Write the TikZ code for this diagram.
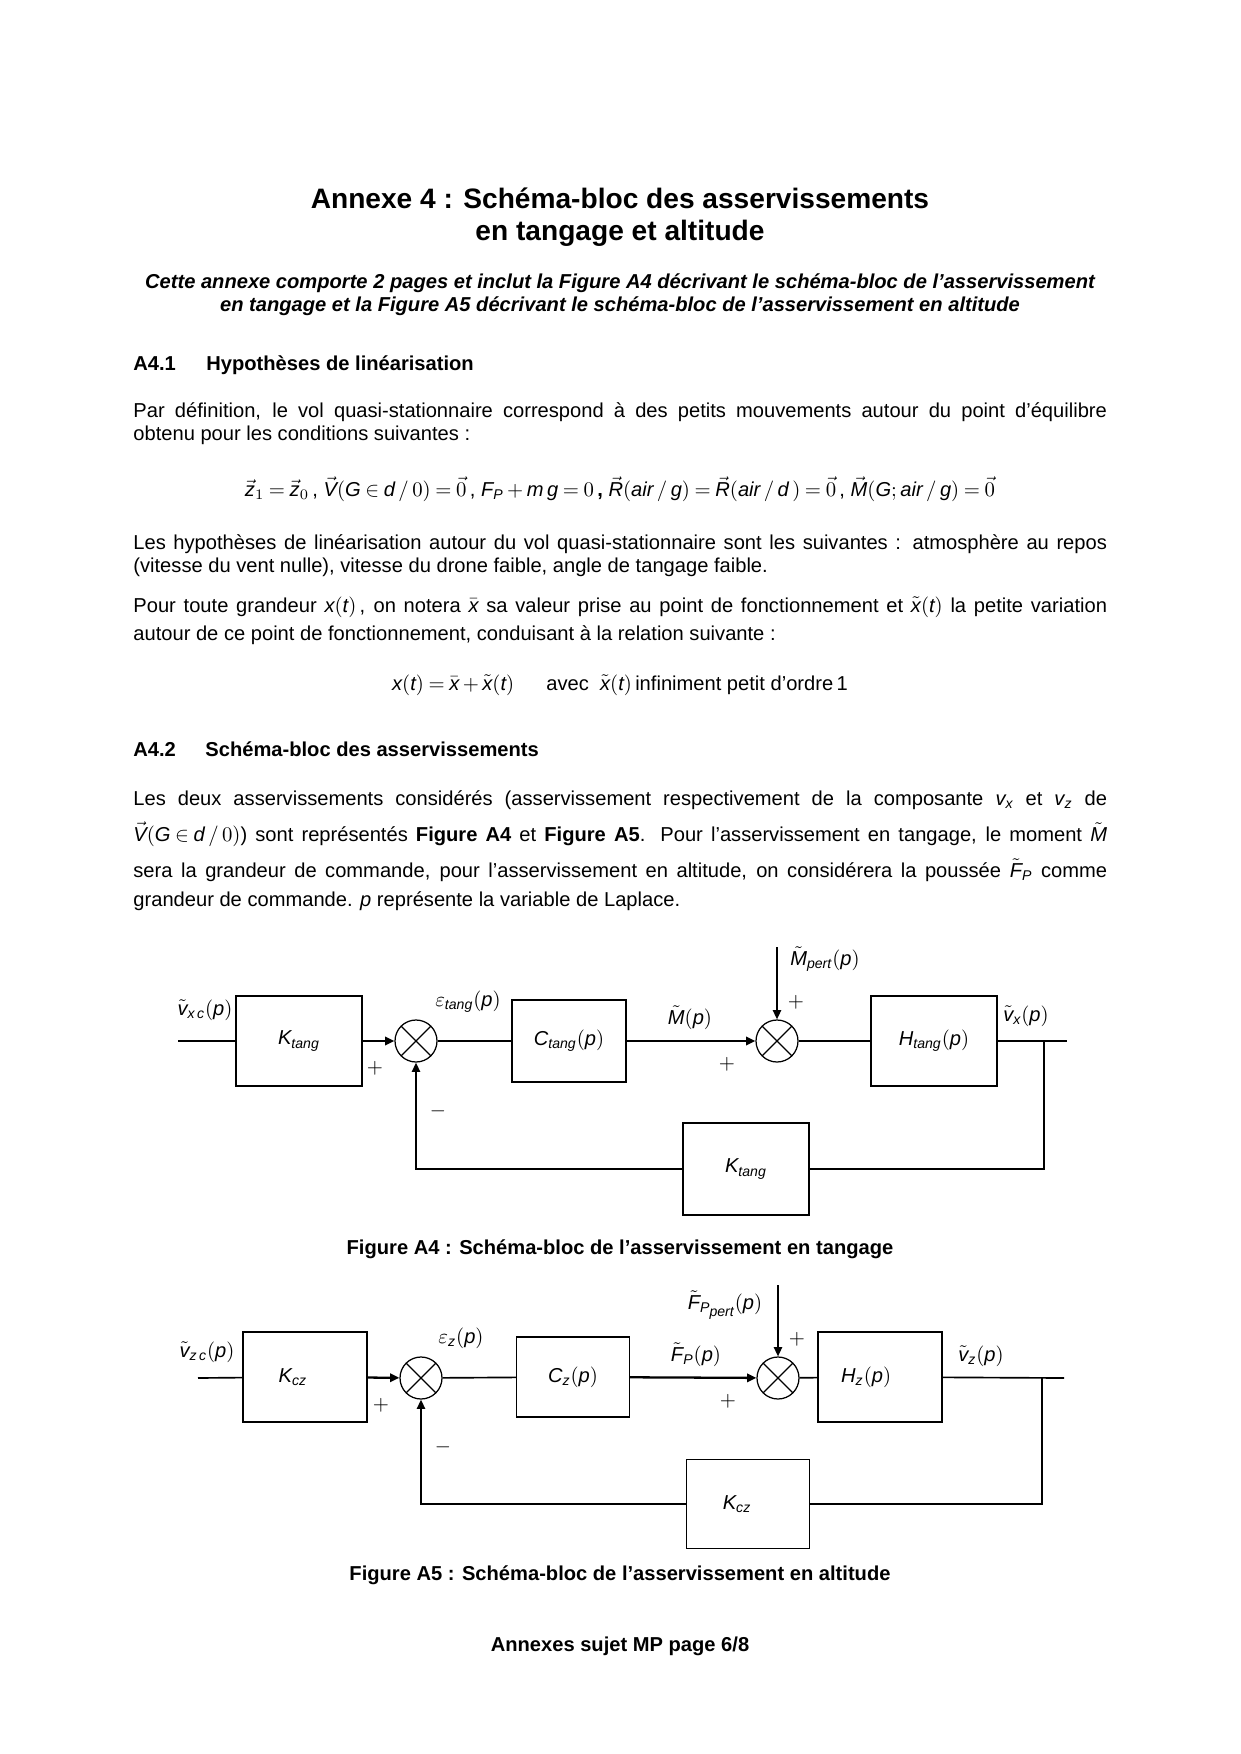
\documentclass[tikz,border=0pt]{standalone}
\usepackage{amsmath}
\usepackage{fontspec}
\setmainfont{Liberation Sans}
\usetikzlibrary{arrows.meta, positioning}

% chiffres et signes des formules en Liberation Sans
\newfontfamily\sanschiffres[NFSSFamily=libsans]{Liberation Sans}
\DeclareSymbolFont{chiffres}{TU}{libsans}{m}{n}
\DeclareMathSymbol{0}{\mathalpha}{chiffres}{`0}
\DeclareMathSymbol{1}{\mathalpha}{chiffres}{`1}
\DeclareMathSymbol{2}{\mathalpha}{chiffres}{`2}
\DeclareMathSymbol{(}{\mathopen}{chiffres}{`(}
\DeclareMathSymbol{)}{\mathclose}{chiffres}{`)}
\DeclareMathSymbol{/}{\mathord}{chiffres}{`/}
\DeclareMathSymbol{=}{\mathrel}{chiffres}{`=}
\DeclareMathSymbol{+}{\mathbin}{chiffres}{`+}
\DeclareMathSymbol{;}{\mathpunct}{chiffres}{`;}
\thickmuskip=4mu
\medmuskip=3mu

\newcommand{\px}{0.016933cm}
\newcommand{\corps}{\fontsize{9.7}{11.15}\selectfont}
\newcommand{\titre}{\fontsize{13.55}{15.6}\selectfont\bfseries}
\newcommand{\vi}[1]{\textit{#1}}
\newcommand{\vect}[1]{\vec{\vi{#1}}}
\newcommand{\tild}[1]{\tilde{\vi{#1}}}
\newlength{\largeur}
\setlength{\largeur}{16.49cm}

\begin{document}
\begin{tikzpicture}[x=\px, y=-\px, >={Triangle[length=4.5pt, width=4pt]},
    ligne/.style={anchor=base west, inner sep=0pt, font=\corps},
    centre/.style={anchor=base, inner sep=0pt, font=\corps},
    bloc/.style={draw, line width=0.6pt, inner sep=0pt, font=\corps},
    somme/.style={draw, circle, line width=0.6pt, minimum size=42*\px, inner sep=0pt,
        path picture={
            \draw[line width=0.6pt] (path picture bounding box.north west) -- (path picture bounding box.south east);
            \draw[line width=0.6pt] (path picture bounding box.south west) -- (path picture bounding box.north east);
        }},
    signe/.style={inner sep=0pt, font=\corps},
    fil/.style={line width=0.8pt},
    filfort/.style={line width=1.1pt}]

    \fill[white] (0,0) rectangle (1240,1754);
    \useasboundingbox (0,0) rectangle (1240,1754);

    % titre
    \node[centre, font=\titre] (titre1) at (620,208) {Annexe 4 : Schéma-bloc des asservissements};
    \node[centre, font=\titre] (titre2) at (620,240) {en tangage et altitude};
    \node[centre, font=\corps\bfseries\itshape] (intro1) at (620,288) {Cette annexe comporte 2 pages et inclut la Figure A4 décrivant le schéma-bloc de l’asservissement};
    \node[centre, font=\corps\bfseries\itshape] (intro2) at (620,311) {en tangage et la Figure A5 décrivant le schéma-bloc de l’asservissement en altitude};

    % A4.1
    \node[ligne, font=\corps\bfseries] (num1) at (133,370) {A4.1};
    \node[ligne, font=\corps\bfseries] (sec1) at (206,370) {Hypothèses de linéarisation};

    \node[ligne] (p1a) at (133,417) {\makebox[\largeur][s]{Par définition, le vol quasi-stationnaire correspond à des petits mouvements autour du point d’équilibre}};
    \node[ligne] (p1b) at (133,440) {obtenu pour les conditions suivantes :};

    \node[centre] (eq1) at (620,496) {$\vect{z}_1=\vect{z}_0$\,, $\vect{V}(\vi{G}\in\vi{d}\,/\,0)=\vec{0}$\,, $\vi{F}_{\vi{P}}+\vi{m}\,\vi{g}=0$\,\textbf{,} $\vect{R}(\vi{air}\,/\,\vi{g})=\vect{R}(\vi{air}\,/\,\vi{d}\,)=\vec{0}$\,, $\vect{M}(\vi{G};\vi{air}\,/\,\vi{g})=\vec{0}$};

    \node[ligne] (p2a) at (133,549) {\makebox[\largeur][s]{Les hypothèses de linéarisation autour du vol quasi-stationnaire sont les suivantes : atmosphère au repos}};
    \node[ligne] (p2b) at (133,572) {(vitesse du vent nulle), vitesse du drone faible, angle de tangage faible.};

    \node[ligne] (p3a) at (133,612) {\makebox[\largeur][s]{Pour toute grandeur $\vi{x}(\vi{t})$\,, on notera $\bar{\vi{x}}$ sa valeur prise au point de fonctionnement et $\tild{x}(\vi{t})$ la petite variation}};
    \node[ligne] (p3b) at (133,640) {autour de ce point de fonctionnement, conduisant à la relation suivante :};

    \node[centre] (eq2) at (620,690) {$\vi{x}(\vi{t})=\bar{\vi{x}}+\tild{x}(\vi{t})$\hspace{1.6em}avec\ \ $\tild{x}(\vi{t})$\,infiniment petit d'ordre\,1};

    % A4.2
    \node[ligne, font=\corps\bfseries] (num2) at (133,756) {A4.2};
    \node[ligne, font=\corps\bfseries] (sec2) at (205,756) {Schéma-bloc des asservissements};

    \node[ligne] (p4a) at (133,805) {\makebox[\largeur][s]{Les deux asservissements considérés (asservissement respectivement de la composante $\vi{v}_{\vi{x}}$ et $\vi{v}_{\vi{z}}$ de}};
    \node[ligne] (p4b) at (133,841) {\makebox[\largeur][s]{$\vect{V}(\vi{G}\in\vi{d}\,/\,0)$) sont représentés \textbf{Figure A4} et \textbf{Figure A5}. Pour l’asservissement en tangage, le moment $\tild{M}$}};
    \node[ligne] (p4c) at (133,877) {\makebox[\largeur][s]{sera la grandeur de commande, pour l’asservissement en altitude, on considérera la poussée $\tild{F}_{\vi{P}}$ comme}};
    \node[ligne] (p4d) at (133,906) {grandeur de commande. $\vi{p}$ représente la variable de Laplace.};

    % Figure A4
    \coordinate (e1) at (178,1041);
    \node[bloc, minimum width=126*\px, minimum height=90*\px] (K1) at (299,1041) {$\vi{K}_{\vi{tang}}$};
    \node[somme] (S1) at (416,1041) {};
    \node[bloc, minimum width=114*\px, minimum height=82*\px] (C1) at (569,1041) {$\vi{C}_{\vi{tang}}(\vi{p})$};
    \node[somme] (S2) at (777,1041) {};
    \node[bloc, minimum width=126*\px, minimum height=90*\px] (H1) at (934,1041) {$\vi{H}_{\vi{tang}}(\vi{p})$};
    \coordinate (b1) at (1044,1041);
    \coordinate (s1) at (1067,1041);
    \node[bloc, minimum width=126*\px, minimum height=92*\px] (R1) at (746,1169) {$\vi{K}_{\vi{tang}}$};
    \coordinate (m1) at (777,947);

    \node[signe] (lvxc) at (205,1010) {$\tild{v}_{\vi{x\,c}}(\vi{p})$};
    \node[signe] (leps1) at (468,1002) {$\varepsilon_{\vi{tang}}(\vi{p})$};
    \node[signe] (lM) at (690,1018) {$\tild{M}(\vi{p})$};
    \node[signe] (lMp) at (825,959) {$\tild{M}_{\vi{pert}}(\vi{p})$};
    \node[signe] (lvx) at (1026,1016) {$\tild{v}_{\vi{x}}(\vi{p})$};
    \node[signe] (sg1) at (375,1068) {$+$};
    \node[signe] (sg2) at (438,1111) {$-$};
    \node[signe] (sg3) at (727,1064) {$+$};
    \node[signe] (sg4) at (796,1002) {$+$};

    \draw[fil] (e1) -- (K1);
    \draw[filfort, ->] (K1) -- (S1);
    \draw[fil] (S1) -- (C1);
    \draw[filfort, ->] (C1) -- (S2);
    \draw[fil] (S2) -- (H1);
    \draw[fil] (H1) -- (s1);
    \draw[fil] (b1) |- (R1);
    \draw[fil, ->] (R1) -| (S1);
    \draw[fil, ->] (m1) -- (S2);

    \node[centre, font=\corps\bfseries] (leg1) at (620,1254) {Figure A4 : Schéma-bloc de l’asservissement en tangage};

    % Figure A5
    \coordinate (e2) at (198,1378);
    \node[bloc, minimum width=124*\px, minimum height=90*\px] (K2) at (305,1377) {$\vi{K}_{\vi{cz}}$\hspace*{0.41cm}};
    \node[somme] (S3) at (421,1378) {};
    \node[bloc, minimum width=113*\px, minimum height=80*\px] (C2) at (573,1377) {$\vi{C}_{\vi{z}}(\vi{p})$};
    \node[somme] (S4) at (778,1378) {};
    \node[bloc, minimum width=124*\px, minimum height=90*\px] (H2) at (880,1377) {$\vi{H}_{\vi{z}}(\vi{p})$\hspace*{0.47cm}};
    \coordinate (b2) at (1042,1378);
    \coordinate (s2) at (1064,1378);
    \node[bloc, minimum width=123*\px, minimum height=89*\px] (R2) at (748,1504) {$\vi{K}_{\vi{cz}}$\hspace*{0.37cm}};
    \coordinate (m2) at (778,1285);

    \node[signe] (lvzc) at (207,1352) {$\tild{v}_{\vi{z\,c}}(\vi{p})$};
    \node[signe] (leps2) at (461,1338) {$\varepsilon_{\vi{z}}(\vi{p})$};
    \node[signe] (lF) at (696,1355) {$\tild{F}_{\vi{P}}(\vi{p})$};
    \node[signe] (lFp) at (725,1305) {$\tild{F}_{\vi{P}\lower0.35ex\hbox{$\scriptstyle\vi{pert}$}}(\vi{p})$};
    \node[signe] (lvz) at (981,1356) {$\tild{v}_{\vi{z}}(\vi{p})$};
    \node[signe] (sg5) at (381,1405) {$+$};
    \node[signe] (sg6) at (443,1447) {$-$};
    \node[signe] (sg7) at (728,1401) {$+$};
    \node[signe] (sg8) at (797,1339) {$+$};

    \draw[fil] (e2) -- (K2);
    \draw[filfort, ->] (K2) -- (S3);
    \draw[fil] (S3) -- (C2);
    \draw[filfort, ->] (C2) -- (S4);
    \draw[fil] (S4) -- (H2);
    \draw[fil] (H2) -- (s2);
    \draw[fil] (b2) |- (R2);
    \draw[fil, ->] (R2) -| (S3);
    \draw[fil, ->] (m2) -- (S4);

    \node[centre, font=\corps\bfseries] (leg2) at (620,1580) {Figure A5 : Schéma-bloc de l’asservissement en altitude};

    \node[centre, font=\corps\bfseries] (pied) at (620,1651) {Annexes sujet MP page 6/8};

\end{tikzpicture}
\end{document}
